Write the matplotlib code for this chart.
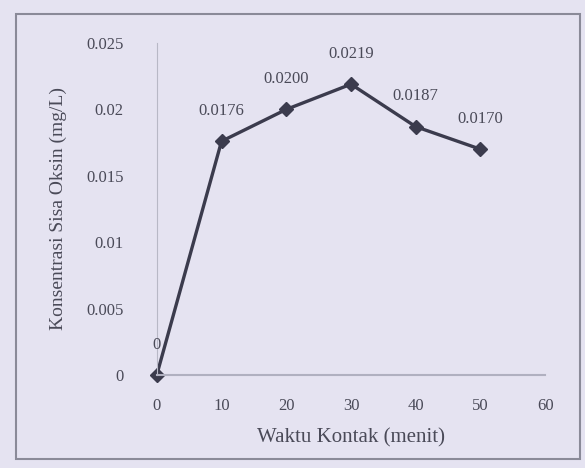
import matplotlib
matplotlib.use("Agg")
import matplotlib.pyplot as plt
from matplotlib.patches import Rectangle

waktu = [0, 10, 20, 30, 40, 50]
konsentrasi = [0.0, 0.0176, 0.0200, 0.0219, 0.0187, 0.0170]
labels = ["0", "0.0176", "0.0200", "0.0219", "0.0187", "0.0170"]
xticks = [0, 10, 20, 30, 40, 50, 60]
yticks = [0, 0.005, 0.01, 0.015, 0.02, 0.025]
yticklabels = ["0", "0.005", "0.01", "0.015", "0.02", "0.025"]

plt.rcParams['font.family'] = ['Liberation Serif', 'DejaVu Serif']
bg = '#e5e3f1'
tc = '#4a4a58'
fig = plt.figure(figsize=(5.85, 4.68), dpi=100, facecolor=bg)
fig.patches.append(Rectangle((0.027, 0.02), 0.965, 0.95, transform=fig.transFigure,
                             fill=False, edgecolor='#8a8a98', linewidth=1.5))
ax = fig.add_axes([0.268, 0.199, 0.664, 0.709])
ax.set_facecolor(bg)
ax.plot(waktu, konsentrasi, color='#3b3b4d', linewidth=2.4, marker='D', markersize=7,
        markerfacecolor='#3b3b4d', markeredgecolor='#3b3b4d', clip_on=False)
for x, y, t in zip(waktu, konsentrasi, labels):
    ax.annotate(t, (x, y), xytext=(0, 16), textcoords='offset points', ha='center',
                va='bottom', fontsize=12, color=tc)
ax.set_xlim(0, 60)
ax.set_ylim(0, 0.025)
ax.set_xticks(xticks)
ax.set_yticks(yticks)
ax.set_yticklabels(yticklabels)
ax.tick_params(axis='both', length=0, labelsize=12, colors=tc)
ax.tick_params(axis='y', pad=24)
ax.tick_params(axis='x', pad=17)
for s in ['top', 'right']:
    ax.spines[s].set_visible(False)
ax.spines['left'].set_color('#b8b8c6')
ax.spines['bottom'].set_color('#b0b0c0')
ax.spines['bottom'].set_linewidth(1.5)
ax.set_xlabel('Waktu Kontak (menit)', fontsize=15, color=tc, labelpad=10)
ax.set_ylabel('Konsentrasi Sisa Oksin (mg/L)', fontsize=14, color=tc, labelpad=14)
fig.savefig('out.png', dpi=100, facecolor=bg)
